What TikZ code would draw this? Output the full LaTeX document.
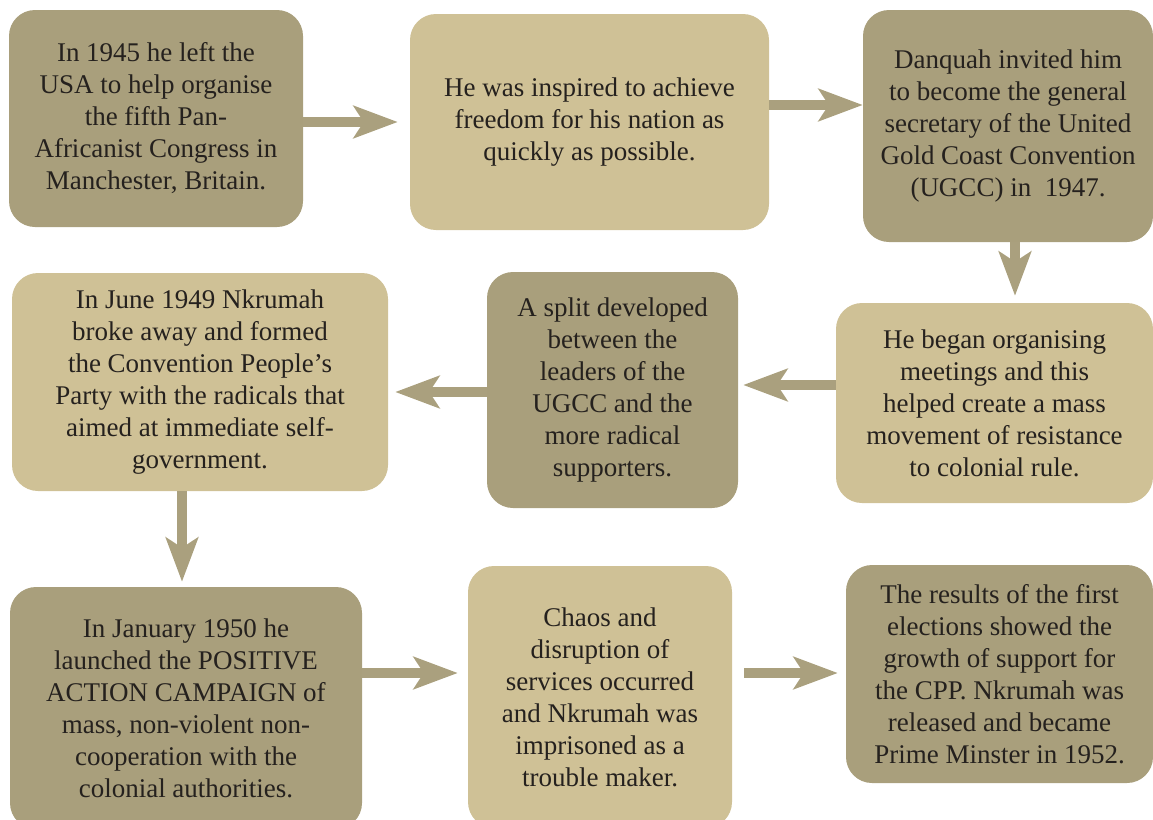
\documentclass[tikz,border=0pt]{standalone}
\usepackage{fontspec}
\setmainfont{Liberation Serif}
\usetikzlibrary{arrows.meta, calc, positioning}

\definecolor{darkbox}{HTML}{A99F7C}
\definecolor{lightbox}{HTML}{CFC196}
\definecolor{arrowcol}{HTML}{AAA07E}
\definecolor{inkcol}{HTML}{25211E}

\begin{document}
\begin{tikzpicture}[x=1pt, y=-1pt,
    box/.style={rounded corners=26pt, align=center, inner sep=0pt, text=inkcol,
                font=\fontsize{27}{32}\selectfont},
    darkstep/.style={box, fill=darkbox},
    lightstep/.style={box, fill=lightbox},
    flow/.style={draw=arrowcol, line width=10pt, -{Stealth[length=44pt, width=32pt, inset=10pt]}}]
			\useasboundingbox (0,0) rectangle (1153,819);
			
			% Top row
			\node[darkstep, minimum width=294pt, minimum height=217pt] (leftusa) at (156,118.5)
				{In 1945 he left the\\USA to help organise\\the fifth Pan-\\Africanist Congress in\\Manchester, Britain.};
			\node[lightstep, minimum width=359pt, minimum height=216pt] (inspired) at (589.5,122)
				{He was inspired to achieve\\freedom for his nation as\\quickly as possible.};
			\node[darkstep, minimum width=290pt, minimum height=232pt] (invited) at (1008,126)
				{Danquah invited him\\to become the general\\secretary of the United\\Gold Coast Convention\\(UGCC) in\ \ 1947.};
			
			% Middle row
			\node[lightstep, minimum width=317pt, minimum height=200pt] (organising) at (994.5,403)
				{He began organising\\meetings and this\\helped create a mass\\movement of resistance\\to colonial rule.};
			\node[darkstep, minimum width=251pt, minimum height=236pt] (split) at (612.5,390)
				{A split developed\\between the\\leaders of the\\UGCC and the\\more radical\\supporters.};
			\node[lightstep, minimum width=376pt, minimum height=218pt] (cpp) at (200,382)
				{In June 1949 Nkrumah\\broke away and formed\\the Convention People's\\Party with the radicals that\\aimed at immediate self-\\government.};
			
			% Bottom row
			\node[darkstep, minimum width=352pt, minimum height=242pt] (positive) at (186,708)
				{In January 1950 he\\launched the POSITIVE\\ACTION CAMPAIGN of\\mass, non-violent non-\\cooperation with the\\colonial authorities.};
			\node[lightstep, minimum width=264pt, minimum height=262pt] (chaos) at (600,697)
				{Chaos and\\disruption of\\services occurred\\and Nkrumah was\\imprisoned as a\\trouble maker.};
			\node[darkstep, minimum width=307pt, minimum height=218pt] (results) at (999.5,674)
				{The results of the first\\elections showed the\\growth of support for\\the CPP. Nkrumah was\\released and became\\Prime Minster in 1952.};
			
			% Arrows
			\draw[flow, shorten >=12pt] (leftusa.east |- inspired.west) -- (inspired.west);
			\draw[flow] ($(inspired.east)+(0,-17)$) -- ($(inspired.east -| invited.west)+(0,-17)$);
			\draw[flow, shorten >=7pt] ($(invited.south)+(7,0)$) -- ($(organising.north -| invited.south)+(7,0)$);
			\draw[flow, shorten >=5pt] ($(organising.west |- split.east)+(0,-5)$) -- ($(split.east)+(0,-5)$);
			\draw[flow, shorten >=7pt] ($(split.west)+(0,2)$) -- ($(split.west -| cpp.east)+(0,2)$);
			\draw[flow, shorten >=5pt] ($(cpp.south -| positive.north)+(-4,0)$) -- ($(positive.north)+(-4,0)$);
			\draw[flow, shorten >=10pt] ($(positive.east)+(0,-35)$) -- ($(positive.east -| chaos.west)+(0,-35)$);
			\draw[flow, shorten <=12pt, shorten >=8pt] ($(chaos.east)+(0,-24)$) -- ($(chaos.east -| results.west)+(0,-24)$);
			
		\end{tikzpicture}
\end{document}
